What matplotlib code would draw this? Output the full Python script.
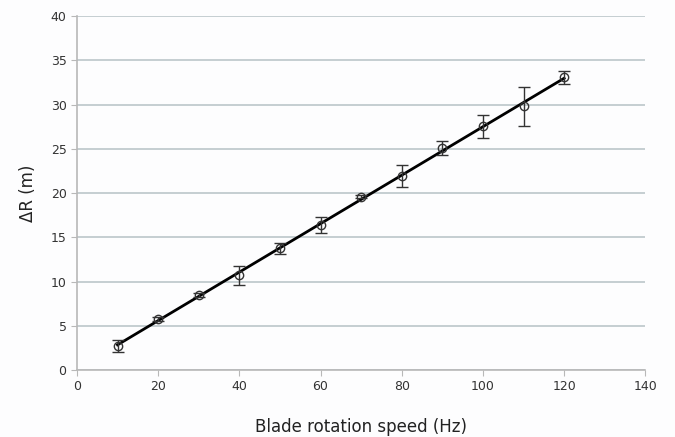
import numpy as np
import matplotlib.pyplot as plt

speed = [10, 20, 30, 40, 50, 60, 70, 80, 90, 100, 110, 120]
delta_r = [2.75, 5.8, 8.5, 10.7, 13.75, 16.4, 19.6, 21.95, 25.15, 27.55, 29.8, 33.1]
err = [0.7, 0.2, 0.25, 1.1, 0.6, 0.85, 0.2, 1.2, 0.8, 1.3, 2.2, 0.75]

fig = plt.figure(figsize=(6.75, 4.37), dpi=100)
fig.patch.set_facecolor('#fdfdfe')
ax = fig.add_axes([0.114, 0.153, 0.842, 0.81])
ax.set_facecolor('#fdfdfe')

# linear fit through the points
k, b = np.polyfit(speed, delta_r, 1)
xs = np.array([speed[0], speed[-1]])
ax.plot(xs, k * xs + b, color='black', lw=2, zorder=3)

ax.errorbar(speed, delta_r, yerr=err, fmt='o', mfc='none', mec='#333333',
            ms=6, mew=1, ecolor='#333333', elinewidth=1, capsize=4, capthick=1, zorder=4)

ax.set_xlim(0, 140)
ax.set_ylim(0, 40)
ax.set_xticks(range(0, 141, 20))
ax.set_yticks(range(0, 41, 5))
ax.yaxis.grid(True, color='#bcc6ca', lw=1.2)
ax.set_axisbelow(True)
for s in ['top', 'right']:
    ax.spines[s].set_visible(False)
for s in ['left', 'bottom']:
    ax.spines[s].set_color('#b8b8b8')
    ax.spines[s].set_linewidth(1.2)
ax.tick_params(axis='both', colors='#b8b8b8', labelcolor='#333333', labelsize=9, length=4)
ax.tick_params(axis='x', pad=3)

ax.set_xlabel('Blade rotation speed (Hz)', fontsize=12, color='#222222', labelpad=18)
ax.set_ylabel('ΔR (m)', fontsize=12, color='#222222', labelpad=10)

fig.savefig('out.png', dpi=100, facecolor=fig.get_facecolor())
